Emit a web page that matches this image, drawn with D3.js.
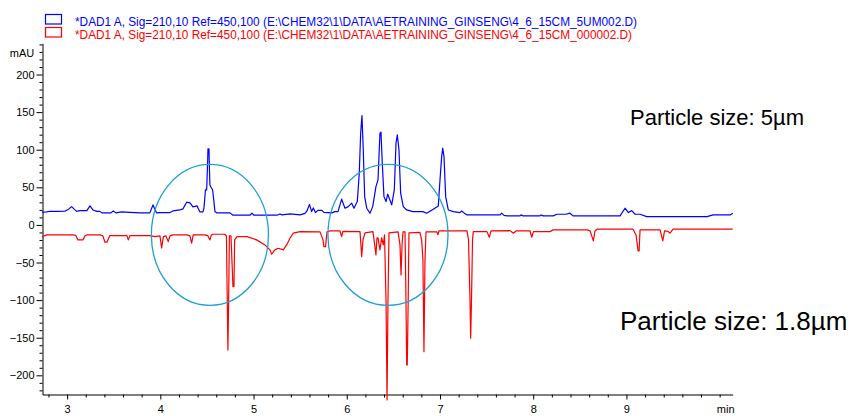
<!DOCTYPE html>
<html>
<head>
<meta charset="utf-8">
<script src="https://cdn.jsdelivr.net/npm/d3@7"></script>
<style>
  html, body { margin: 0; padding: 0; background: #fff; }
  svg { display: block; font-family: "Liberation Sans", Arial, sans-serif; }
</style>
</head>
<body>
<svg id="chart" width="856" height="416"></svg>
<script>
// Chromatogram traces: retention time (min) and absorbance (mAU)
const blueTime = [2.730, 2.783, 2.815, 2.901, 2.976, 3.019, 3.048, 3.073, 3.102, 3.137, 3.212, 3.245, 3.277, 3.320, 3.352, 3.373,
  3.470, 3.495, 3.524, 3.585, 3.674, 3.781, 3.888, 3.921, 3.960, 3.996, 4.103, 4.135, 4.210, 4.243, 4.282, 4.318, 4.350, 4.393,
  4.425, 4.457, 4.468, 4.484, 4.497, 4.508, 4.511, 4.522, 4.527, 4.532, 4.543, 4.561, 4.575, 4.586, 4.607, 4.747, 4.779, 4.961,
  4.983, 5.004, 5.251, 5.283, 5.305, 5.391, 5.498, 5.552, 5.573, 5.600, 5.623, 5.641, 5.664, 5.691, 5.734, 5.755, 5.841, 5.873,
  5.906, 5.945, 5.981, 6.016, 6.053, 6.077, 6.113, 6.134, 6.149, 6.163, 6.177, 6.192, 6.214, 6.249, 6.278, 6.313, 6.335, 6.356,
  6.367, 6.381, 6.399, 6.421, 6.439, 6.456, 6.482, 6.510, 6.528, 6.542, 6.560, 6.578, 6.606, 6.643, 6.710, 6.818, 6.857, 6.928,
  6.982, 7.000, 7.018, 7.029, 7.043, 7.061, 7.089, 7.143, 7.215, 7.233, 7.258, 7.290, 7.644, 7.662, 7.687, 7.719, 7.859, 7.869,
  7.891, 8.073, 8.084, 8.105, 8.213, 8.256, 8.352, 8.395, 8.427, 8.932, 8.985, 9.021, 9.057, 9.093, 9.146, 9.218, 9.865, 9.930,
  10.112, 10.141];
const blueMAU = [16.9, 17.3, 18.2, 18.0, 18.2, 21.3, 24.3, 21.3, 18.0, 19.0, 19.0, 25.3, 19.9, 18.0, 18.0, 16.0,
  16.0, 18.6, 16.0, 17.3, 16.6, 16.0, 16.0, 26.6, 16.0, 16.4, 16.4, 18.6, 19.9, 21.3, 30.2, 29.3, 23.9, 25.3,
  17.3, 17.3, 22.2, 46.5, 46.5, 86.4, 101.1, 101.1, 73.1, 53.2, 50.5, 46.5, 31.0, 17.7, 16.0, 16.0, 12.9, 12.9,
  15.6, 12.9, 12.9, 14.6, 13.3, 14.6, 13.3, 15.3, 18.6, 27.3, 17.7, 22.6, 16.6, 19.3, 19.3, 16.6, 16.0, 17.7,
  17.7, 34.2, 22.2, 24.3, 28.9, 22.2, 31.0, 68.8, 121.9, 145.3, 99.7, 37.6, 22.2, 15.6, 24.3, 50.9, 59.8, 121.9,
  123.3, 82.0, 37.6, 31.0, 40.8, 35.5, 26.6, 46.5, 108.6, 119.7, 99.7, 42.2, 24.3, 19.9, 17.7, 17.7, 15.6, 20.9,
  25.3, 59.8, 90.8, 102.0, 90.8, 37.6, 19.9, 17.7, 16.4, 18.6, 16.0, 13.3, 13.3, 15.6, 12.6, 12.0, 12.0, 13.3,
  12.0, 12.0, 13.3, 12.0, 12.0, 14.2, 14.2, 15.6, 12.0, 12.0, 22.2, 16.4, 19.0, 14.2, 14.2, 11.0, 11.0, 13.3,
  13.3, 15.6];

const redTime = [2.730, 2.783, 3.062, 3.094, 3.116, 3.170, 3.191, 3.212, 3.352, 3.384, 3.406, 3.427, 3.459, 3.642, 3.656, 3.674,
  3.888, 3.942, 3.996, 4.014, 4.033, 4.060, 4.085, 4.103, 4.135, 4.286, 4.318, 4.336, 4.353, 4.479, 4.511, 4.532, 4.548, 4.564,
  4.693, 4.709, 4.718, 4.725, 4.733, 4.741, 4.758, 4.772, 4.779, 4.790, 4.797, 4.822, 4.929, 5.033, 5.122, 5.176, 5.194, 5.229,
  5.265, 5.319, 5.355, 5.391, 5.426, 5.498, 5.713, 5.745, 5.755, 5.772, 5.788, 5.820, 5.927, 5.945, 5.959, 6.142, 6.160, 6.174,
  6.196, 6.281, 6.313, 6.324, 6.335, 6.356, 6.374, 6.392, 6.405, 6.421, 6.432, 6.442, 6.453, 6.550, 6.571, 6.582, 6.593, 6.603,
  6.625, 6.635, 6.643, 6.649, 6.659, 6.667, 6.785, 6.803, 6.817, 6.828, 6.839, 6.850, 6.968, 6.978, 6.989, 7.075, 7.290, 7.306,
  7.322, 7.329, 7.338, 7.349, 7.357, 7.504, 7.529, 7.547, 7.751, 7.787, 7.816, 7.966, 7.984, 8.003, 8.180, 8.213, 8.578, 8.610,
  8.645, 8.663, 8.685, 9.071, 9.103, 9.125, 9.136, 9.146, 9.361, 9.390, 9.409, 9.446, 9.468, 9.500, 10.140];
const redMAU = [-15.6, -13.3, -13.3, -14.0, -19.9, -19.9, -14.6, -13.3, -13.3, -14.6, -23.0, -23.0, -14.2, -14.2, -19.9, -14.2,
  -14.2, -15.6, -14.6, -30.6, -15.6, -14.6, -22.2, -14.6, -13.3, -13.3, -14.6, -24.3, -13.3, -13.3, -14.6, -19.9, -13.3, -12.4,
  -12.4, -14.6, -99.7, -166.2, -99.7, -14.6, -14.6, -59.8, -82.0, -82.0, -19.9, -15.6, -15.6, -19.9, -26.6, -33.2, -39.0, -33.2,
  -31.0, -33.2, -26.6, -17.7, -11.0, -8.9, -9.3, -19.9, -28.9, -28.9, -9.3, -8.0, -8.0, -15.6, -8.6, -8.9, -42.2, -19.9,
  -10.6, -8.9, -39.9, -17.3, -17.3, -33.2, -17.3, -26.6, -13.3, -99.7, -232.7, -99.7, -10.6, -9.3, -26.6, -66.5, -26.6, -9.3,
  -9.3, -99.7, -186.2, -186.2, -99.7, -10.6, -10.0, -19.9, -46.5, -168.5, -46.5, -9.3, -9.3, -13.3, -8.0, -8.0, -8.0, -19.9,
  -99.7, -150.7, -99.7, -19.9, -8.9, -8.9, -16.4, -8.0, -7.6, -11.0, -8.0, -8.0, -16.4, -8.9, -8.9, -6.6, -6.6, -8.0,
  -21.3, -8.0, -5.7, -5.7, -13.3, -34.6, -34.6, -6.6, -6.6, -21.3, -8.0, -8.6, -11.0, -5.7, -5.7];

// Axis ticks
const xMajorTicks = [3, 4, 5, 6, 7, 8, 9];
const xMinorTicks = d3.range(14, 51).map(k => k / 5).filter(v => !xMajorTicks.includes(v));
const yMajorTicks = [-200, -150, -100, -50, 0, 50, 100, 150, 200];
const yMinorTicks = d3.range(-22, 25).map(k => k * 10).filter(v => v % 50 !== 0);

// Legend entries and annotations
const legendLabels = [
  "*DAD1 A, Sig=210,10 Ref=450,100 (E:\\CHEM32\\1\\DATA\\AETRAINING_GINSENG\\4_6_15CM_5UM002.D)",
  "*DAD1 A, Sig=210,10 Ref=450,100 (E:\\CHEM32\\1\\DATA\\AETRAINING_GINSENG\\4_6_15CM_000002.D)"
];
const seriesColors = ["#0000ff", "#ff0000"];
const noteLabels = ["Particle size: 5µm", "Particle size: 1.8µm"];
// Highlighted regions: centre time, centre mAU, half-width (min), half-height (mAU)
const circleTime = [4.532, 6.442];
const circleMAU = [-13.3, -13.3];
const circleHalfWidth = [0.628, 0.644];
const circleHalfHeight = [93.7, 93.7];

const svg = d3.select("#chart");

const x = d3.scaleLinear().domain([2.736, 10.14]).range([42.5, 732.7]);
const y = d3.scaleLinear().domain([-225.5, 241.5]).range([394.5, 43.3]);

// Y axis
const yAxis = svg.append("g").attr("transform", `translate(${x.range()[0]},0)`);
yAxis.call(d3.axisLeft(y).tickValues(yMajorTicks).tickSize(6).tickSizeOuter(0).tickPadding(2)
  .tickFormat(d3.format("d")));
yAxis.append("g").call(d3.axisLeft(y).tickValues(yMinorTicks).tickSize(3).tickSizeOuter(0).tickFormat(""))
  .select(".domain").remove();
yAxis.selectAll("text").attr("font-size", 11).attr("font-family", "Liberation Sans, Arial, sans-serif").attr("fill", "#000");
yAxis.append("text").attr("x", -8.2).attr("y", 57).attr("text-anchor", "end")
  .attr("font-size", 11).attr("fill", "#000").text("mAU");

// X axis
const xAxis = svg.append("g").attr("transform", `translate(0,${y.range()[0]})`);
xAxis.call(d3.axisBottom(x).tickValues(xMajorTicks).tickSize(5).tickSizeOuter(0).tickPadding(6)
  .tickFormat(d3.format("d")));
xAxis.append("g").call(d3.axisBottom(x).tickValues(xMinorTicks).tickSize(3).tickSizeOuter(0).tickFormat(""))
  .select(".domain").remove();
xAxis.selectAll("text").attr("font-size", 11).attr("font-family", "Liberation Sans, Arial, sans-serif").attr("fill", "#000");
xAxis.append("text").attr("x", x.range()[1] - 7).attr("y", 5 + 6).attr("dy", "0.71em")
  .attr("text-anchor", "middle").attr("font-size", 11).attr("fill", "#000").text("min");

svg.selectAll(".domain, .tick line").attr("stroke", "#000").attr("stroke-width", 1);

// Traces
const traces = [[blueTime, blueMAU], [redTime, redMAU]];
traces.forEach(([t, v], k) => {
  const line = d3.line().x(i => x(t[i])).y(i => y(v[i]));
  svg.append("path")
    .attr("d", line(d3.range(t.length)))
    .attr("fill", "none")
    .attr("stroke", seriesColors[k])
    .attr("stroke-width", 1.2)
    .attr("stroke-linejoin", "round");
});

// Highlight ellipses
circleTime.forEach((t, i) => {
  svg.append("ellipse")
    .attr("cx", x(t))
    .attr("cy", y(circleMAU[i]))
    .attr("rx", x(t + circleHalfWidth[i]) - x(t))
    .attr("ry", y(circleMAU[i] - circleHalfHeight[i]) - y(circleMAU[i]))
    .attr("fill", "none")
    .attr("stroke", "#1ea0d2")
    .attr("stroke-width", 1.3);
});

// Legend
const legend = svg.append("g");
legendLabels.forEach((label, i) => {
  legend.append("rect")
    .attr("x", 45.5).attr("y", 14.5 + i * 13)
    .attr("width", 16).attr("height", 9.5)
    .attr("fill", "#fff").attr("stroke", seriesColors[i]).attr("stroke-width", 1.2);
  legend.append("text")
    .attr("x", 75).attr("y", 26 + i * 12.6)
    .attr("font-size", 12)
    .attr("fill", seriesColors[i])
    .attr("textLength", i === 0 ? 562 : 557)
    .attr("lengthAdjust", "spacingAndGlyphs")
    .text(label);
});

// Annotations
svg.append("text").attr("x", 630).attr("y", 125).attr("font-size", 22).attr("fill", "#000").text(noteLabels[0]);
svg.append("text").attr("x", 620).attr("y", 330).attr("font-size", 26).attr("fill", "#000").text(noteLabels[1]);
</script>
</body>
</html>
